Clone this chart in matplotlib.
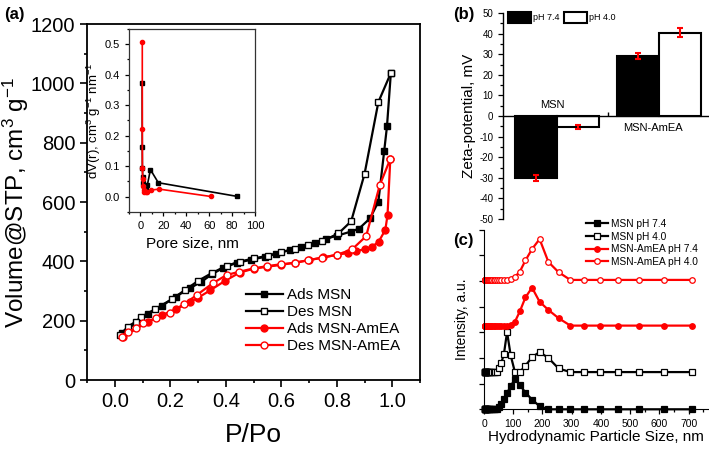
import numpy as np
import matplotlib
matplotlib.use('Agg')
import matplotlib.pyplot as plt
from matplotlib.ticker import MultipleLocator, FormatStrFormatter, NullFormatter

plt.rcParams['font.family'] = ['Liberation Sans', 'DejaVu Sans']
plt.rcParams['mathtext.fontset'] = 'custom'
plt.rcParams['mathtext.rm'] = 'Liberation Sans'
plt.rcParams['mathtext.default'] = 'regular'
plt.rcParams['axes.unicode_minus'] = False

# (a) N2 adsorption / desorption isotherms
ads_msn_p = [0.025, 0.12, 0.17, 0.22, 0.27, 0.31, 0.35, 0.39, 0.44, 0.49, 0.54, 0.58,
             0.63, 0.67, 0.72, 0.76, 0.80, 0.85, 0.88, 0.92, 0.95, 0.971, 0.981, 0.995]
ads_msn_v = [157, 222, 250, 281, 309, 330, 356, 378, 395, 405, 415, 425,
             438, 449, 462, 476, 486, 500, 510, 545, 601, 772, 855, 1035]
des_msn_p = [0.995, 0.95, 0.90, 0.852, 0.806, 0.746, 0.698, 0.65, 0.60, 0.553, 0.502,
             0.45, 0.403, 0.349, 0.30, 0.253, 0.205, 0.144, 0.096, 0.076, 0.048, 0.018]
des_msn_v = [1035, 937, 694, 535, 494, 467, 454, 441, 432, 419, 410,
             399, 385, 360, 334, 303, 272, 238, 213, 197, 180, 152]
ads_am_p = [0.03, 0.12, 0.17, 0.22, 0.27, 0.30, 0.345, 0.397, 0.45, 0.50, 0.55, 0.60,
            0.65, 0.70, 0.75, 0.80, 0.84, 0.87, 0.90, 0.927, 0.951, 0.975, 0.983, 0.993]
ads_am_v = [145, 197, 219, 238, 262, 277, 303, 334, 362, 375, 382, 388,
            396, 404, 413, 422, 428, 434, 441, 449, 466, 506, 556, 745]
des_am_p = [0.993, 0.955, 0.906, 0.855, 0.80, 0.746, 0.698, 0.65, 0.598, 0.55, 0.50,
            0.449, 0.403, 0.353, 0.295, 0.25, 0.199, 0.15, 0.102, 0.076, 0.048, 0.026]
des_am_v = [745, 657, 485, 440, 422, 412, 404, 395, 390, 384, 376,
            365, 354, 326, 286, 256, 227, 208, 191, 174, 163, 144]

# inset: pore size distribution
psd_msn_x = [1.5, 1.6, 1.7, 2.0, 2.5, 3.2, 4.5, 6.0, 8.7, 15.6, 84.7]
psd_msn_y = [0.372, 0.164, 0.095, 0.065, 0.045, 0.035, 0.025, 0.038, 0.089, 0.046, 0.001]
psd_am_x = [1.6, 1.6, 1.7, 1.9, 2.2, 2.7, 3.5, 4.5, 6.0, 9.2, 16.5, 61.2]
psd_am_y = [0.507, 0.221, 0.095, 0.058, 0.035, 0.022, 0.015, 0.014, 0.017, 0.022, 0.025, 0.001]

# (b) zeta potential
groups = ['MSN', 'MSN-AmEA']
zeta_74 = [-30.0, 29.0]
err_74 = [1.5, 1.5]
zeta_40 = [-5.3, 40.5]
err_40 = [0.8, 2.0]

# (c) DLS size distributions
sizes = [2.010, 2.328, 2.696, 3.122, 3.615, 4.187, 4.849, 5.615, 6.503, 7.531, 8.721,
         10.10, 11.70, 13.54, 15.69, 18.17, 21.04, 24.36, 28.21, 32.67, 37.84, 43.82,
         50.75, 58.77, 68.06, 78.82, 91.28, 105.7, 122.4, 141.8, 164.2, 190.1, 220.2,
         255.0, 295.3, 342.0, 396.1, 458.7, 531.2, 615.1, 712.4]
msn_74 = [0, 0, 0, 0, 0, 0, 0, 0, 0, 0, 0,
          0, 0, 0, 0, 0, 0, 0, 0, 0, 0, 0,
          0.8, 2.0, 4.0, 6.3, 9.0, 11.8, 9.5, 6.5, 3.8, 1.2, 0,
          0, 0, 0, 0, 0, 0, 0, 0]
msn_40 = [0, 0, 0, 0, 0, 0, 0, 0, 0, 0, 0,
          0, 0, 0, 0, 0, 0, 0, 0, 0, 0, 0,
          1.5, 3.5, 7.0, 15.6, 6.5, 0, 0, 2.5, 5.8, 7.8, 5.5,
          1.4, 0, 0, 0, 0, 0, 0, 0]
am_74 = [0, 0, 0, 0, 0, 0, 0, 0, 0, 0, 0,
         0, 0, 0, 0, 0, 0, 0, 0, 0, 0, 0,
         0, 0, 0, 0, 0.3, 1.5, 5.5, 11.0, 14.8, 9.3, 6.1,
         2.9, 0, 0, 0, 0, 0, 0, 0]
am_40 = [0, 0, 0, 0, 0, 0, 0, 0, 0, 0, 0,
         0, 0, 0, 0, 0, 0, 0, 0, 0, 0, 0,
         0, 0, 0, 0, 0.4, 1.2, 3.2, 7.6, 12.0, 15.9, 7.0,
         3.0, 0, 0, 0, 0, 0, 0, 0]
offsets = [0, 14.5, 32.6, 50.4]

W, H = 709, 453
fig = plt.figure(figsize=(W / 100, H / 100), dpi=100)


def px_axes(l, t, r, b):
    return fig.add_axes([l / W, 1 - b / H, (r - l) / W, (b - t) / H])


# ---- panel (a)
ax = px_axes(87, 24, 420, 380)
ax.plot(ads_msn_p, ads_msn_v, '-s', color='k', mfc='k', ms=5, lw=1.6, label='Ads MSN')
ax.plot(des_msn_p, des_msn_v, '-s', color='k', mfc='white', ms=5, lw=1.6, label='Des MSN')
ax.plot(ads_am_p, ads_am_v, '-o', color='red', mfc='red', ms=5, lw=1.6, label='Ads MSN-AmEA')
ax.plot(des_am_p, des_am_v, '-o', color='red', mfc='white', ms=5, lw=1.6, label='Des MSN-AmEA')
ax.set_xlim(-0.1, 1.1)
ax.set_ylim(0, 1200)
ax.xaxis.set_major_locator(MultipleLocator(0.2))
ax.xaxis.set_minor_locator(MultipleLocator(0.1))
ax.xaxis.set_major_formatter(FormatStrFormatter('%.1f'))
ax.yaxis.set_major_locator(MultipleLocator(200))
ax.yaxis.set_minor_locator(MultipleLocator(100))
ax.tick_params(which='major', labelsize=14.5, length=5, width=1.2)
ax.tick_params(which='minor', length=2.5, width=1.2)
for s in ax.spines.values():
    s.set_linewidth(1.3)
ax.set_xlabel('P/Po', fontsize=19, labelpad=9)
ax.set_ylabel('Volume@STP, cm$^3$ g$^{-1}$', fontsize=17.5, labelpad=0)
ax.legend(loc='upper left', bbox_to_anchor=(246 / W, 1 - 288 / H),
          bbox_transform=fig.transFigure, frameon=False, fontsize=11,
          handlelength=2.4, handletextpad=0.3, labelspacing=0.2,
          borderpad=0, borderaxespad=0)

# inset
ins = px_axes(129, 29, 255, 212)
ins.plot(psd_msn_x, psd_msn_y, '-s', color='k', ms=3, lw=1.2)
ins.plot(psd_am_x, psd_am_y, '-o', color='red', ms=3, lw=1.2)
ins.set_xlim(-10, 100)
ins.set_ylim(-0.05, 0.55)
ins.xaxis.set_major_locator(MultipleLocator(20))
ins.xaxis.set_minor_locator(MultipleLocator(10))
ins.yaxis.set_major_locator(MultipleLocator(0.1))
ins.yaxis.set_minor_locator(MultipleLocator(0.05))
ins.yaxis.set_major_formatter(FormatStrFormatter('%.1f'))
ins.tick_params(which='major', labelsize=8, length=3, width=0.9)
ins.tick_params(which='minor', length=1.5, width=0.9)
for s in ins.spines.values():
    s.set_linewidth(0.9)
    s.set_color('#333333')
ins.set_xlabel('Pore size, nm', fontsize=11, labelpad=4)
ins.set_ylabel('dV(r), cm$^3$ g$^{-1}$ nm$^{-1}$', fontsize=9.5, labelpad=1)

# ---- panel (b)
bx = px_axes(503, 13, 708, 219)
xpos = np.arange(len(groups)) + 1
w = 0.41
bx.bar(xpos - w / 2, zeta_74, w, color='k', edgecolor='k', lw=1.5, label='pH 7.4')
bx.bar(xpos + w / 2, zeta_40, w, color='white', edgecolor='k', lw=1.5, label='pH 4.0')
bx.errorbar(xpos - w / 2, zeta_74, yerr=err_74, fmt='none', ecolor='red',
            elinewidth=1.5, capsize=2.5, capthick=1.5)
bx.errorbar(xpos + w / 2, zeta_40, yerr=err_40, fmt='none', ecolor='red',
            elinewidth=1.5, capsize=2.5, capthick=1.5)
bx.set_xlim(0.47, 2.48)
bx.set_ylim(-50, 50)
bx.spines['top'].set_visible(False)
bx.spines['right'].set_visible(False)
bx.spines['bottom'].set_position(('data', 0))
for s in bx.spines.values():
    s.set_linewidth(1.0)
bx.set_xticks([1.5])
bx.set_xticklabels([])
bx.tick_params(axis='x', direction='in', length=3, width=1.0)
bx.yaxis.set_major_locator(MultipleLocator(10))
bx.yaxis.set_minor_locator(MultipleLocator(5))
bx.tick_params(axis='y', which='major', labelsize=7, length=3.5, width=0.9)
bx.tick_params(axis='y', which='minor', length=2, width=0.9)
bx.set_ylabel('Zeta-potential, mV', fontsize=11, labelpad=2)
bx.text(xpos[0] - 0.05, 5.5, groups[0], ha='center', va='center', fontsize=8)
bx.text(xpos[1] - 0.06, -6, groups[1], ha='center', va='center', fontsize=8)
bx.legend(loc='upper left', bbox_to_anchor=(508 / W, 1 - 12 / H),
          bbox_transform=fig.transFigure, ncol=2, frameon=False, fontsize=6.5,
          handlelength=2.6, handleheight=1.5, handletextpad=0.15, columnspacing=0.5,
          borderpad=0, borderaxespad=0)

# ---- panel (c)
cx = px_axes(484, 229.6, 708, 409.3)
series = [msn_74, msn_40, am_74, am_40]
labels = ['MSN pH 7.4', 'MSN pH 4.0', 'MSN-AmEA pH 7.4', 'MSN-AmEA pH 4.0']
styles = [('s', 'k', 'k'), ('s', 'k', 'white'), ('o', 'red', 'red'), ('o', 'red', 'white')]
for ys, off, lab, (mk, col, mf) in zip(series, offsets, labels, styles):
    cx.plot(sizes, np.array(ys) + off, '-' + mk, color=col, mfc=mf, ms=4, lw=1.6,
            mew=0.9, label=lab, clip_on=False)
cx.set_xlim(0, 766)
cx.set_ylim(0, 70)
cx.spines['top'].set_visible(False)
cx.spines['right'].set_visible(False)
cx.xaxis.set_major_locator(MultipleLocator(100))
cx.xaxis.set_minor_locator(MultipleLocator(50))
cx.yaxis.set_major_locator(MultipleLocator(10))
cx.yaxis.set_major_formatter(NullFormatter())
cx.tick_params(which='major', labelsize=7.5, length=3.5, width=0.9)
cx.tick_params(which='minor', length=2, width=0.9)
cx.set_xlabel('Hydrodynamic Particle Size, nm', fontsize=11, labelpad=1)
cx.set_ylabel('Intensity, a.u.', fontsize=10, labelpad=4)
cx.legend(loc='upper left', bbox_to_anchor=(586 / W, 1 - 219 / H),
          bbox_transform=fig.transFigure, frameon=False, fontsize=7.3,
          handlelength=2.2, handletextpad=0.3, labelspacing=0.25,
          borderpad=0, borderaxespad=0)

# panel letters
fig.text(4 / W, 1 - 15 / H, '(a)', fontsize=12, fontweight='bold', va='center')
fig.text(453 / W, 1 - 15 / H, '(b)', fontsize=12, fontweight='bold', va='center')
fig.text(453 / W, 1 - 240 / H, '(c)', fontsize=12, fontweight='bold', va='center')

fig.savefig('out.png', dpi=100)
